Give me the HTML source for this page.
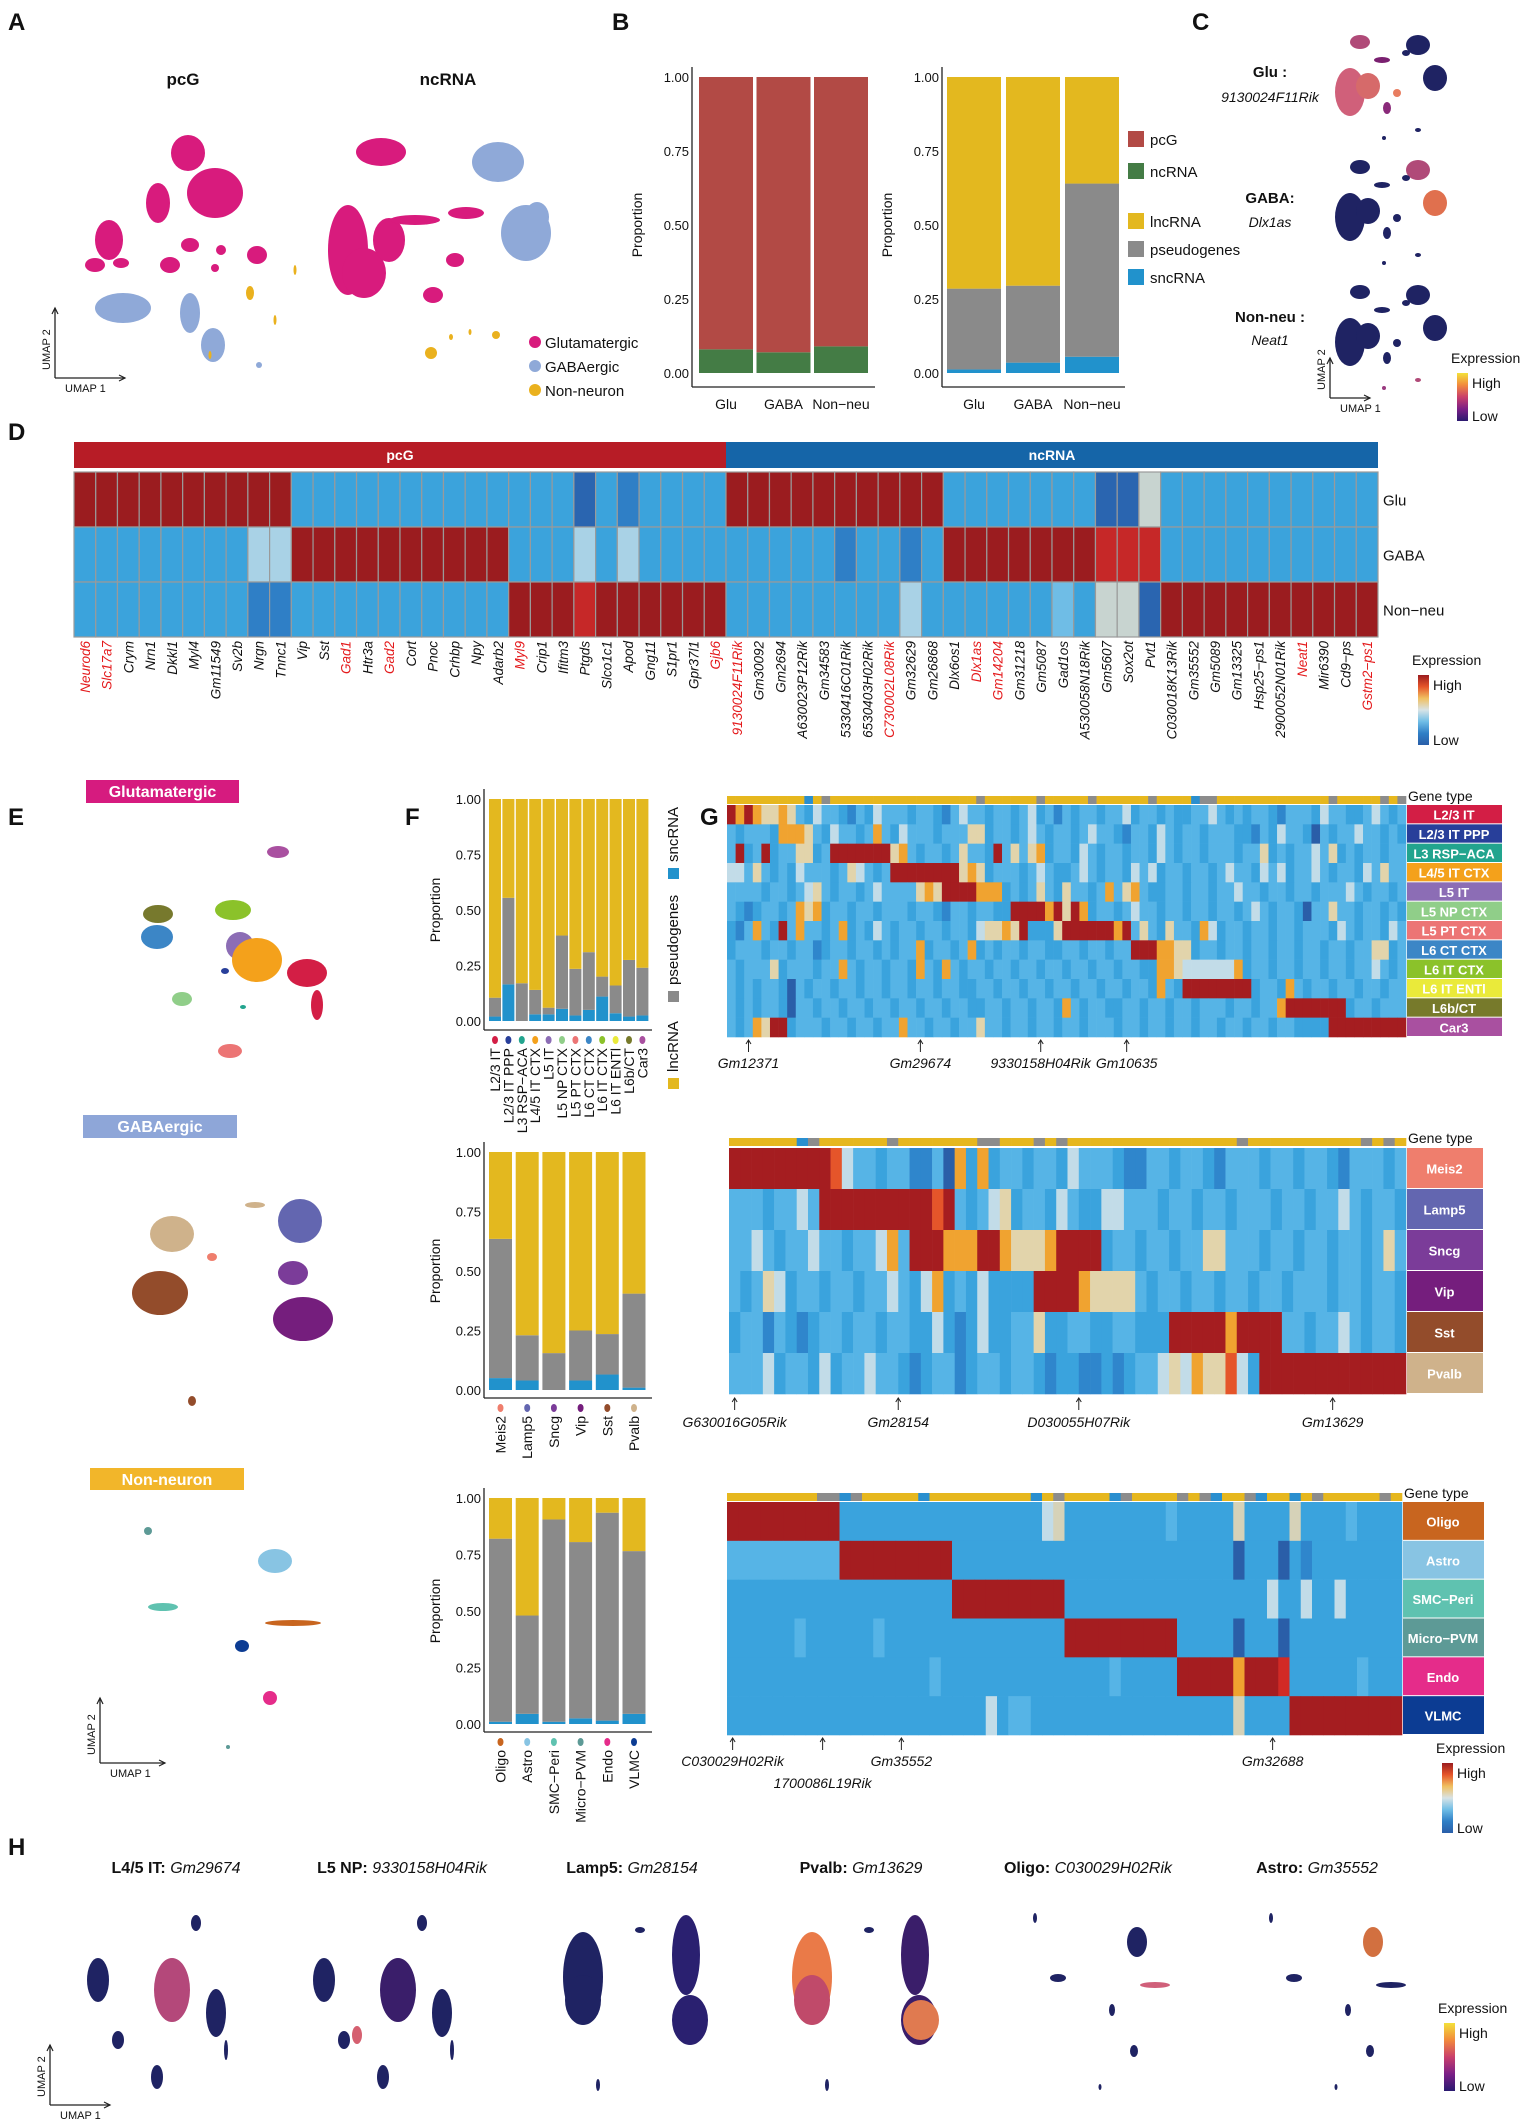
<!DOCTYPE html>
<html><head><meta charset="utf-8"><style>
html,body{margin:0;padding:0;background:#fff;}
svg{display:block;font-family:"Liberation Sans",Arial,sans-serif;}
</style></head><body>
<svg id="fig" width="1535" height="2127" viewBox="0 0 1535 2127" xmlns="http://www.w3.org/2000/svg"></svg>
<script>
// ---------- DATA ----------
const bCategories = ['Glu','GABA','Non\u2212neu'];
const bNcRNA = [0.08, 0.07, 0.09];
const bSncRNA = [0.012, 0.035, 0.055];
const bPseudo = [0.273, 0.26, 0.585];

const fTopCats = ['L2/3 IT','L2/3 IT PPP','L3 RSP\u2212ACA','L4/5 IT CTX','L5 IT','L5 NP CTX','L5 PT CTX','L6 CT CTX','L6 IT CTX','L6 IT ENTl','L6b/CT','Car3'];
const fTopColors = ['#d31e45','#283f9a','#22a48e','#f4a11b','#8c6db5','#90ce89','#ec7575','#3c86c6','#8bc22a','#eaea3a','#777a2b','#a950a0'];
const fTopSnc = [0.02,0.165,0.0,0.03,0.03,0.055,0.025,0.05,0.11,0.035,0.02,0.025];
const fTopPseudo = [0.085,0.39,0.17,0.11,0.03,0.33,0.21,0.26,0.09,0.125,0.255,0.215];

const fMidCats = ['Meis2','Lamp5','Sncg','Vip','Sst','Pvalb'];
const fMidColors = ['#ef7e6d','#6366b0','#7b3c99','#751e7d','#934c2b','#cfb28b'];
const fMidSnc = [0.05,0.04,0.0,0.04,0.065,0.01];
const fMidPseudo = [0.585,0.19,0.155,0.21,0.17,0.395];

const fBotCats = ['Oligo','Astro','SMC\u2212Peri','Micro\u2212PVM','Endo','VLMC'];
const fBotColors = ['#c8651f','#88c4e3','#5fc2b0','#5d9a96','#e52c8a','#0c3c93'];
const fBotSnc = [0.01,0.045,0.01,0.025,0.015,0.045];
const fBotPseudo = [0.81,0.435,0.895,0.78,0.92,0.72];

const dGenes = ['Neurod6','Slc17a7','Crym','Nrn1','Dkkl1','Myl4','Gm11549','Sv2b','Nrgn','Tnnc1','Vip','Sst','Gad1','Htr3a','Gad2','Cort','Pnoc','Crhbp','Npy','Adarb2','Myl9','Crip1','Ifitm3','Ptgds','Slco1c1','Apod','Gng11','S1pr1','Gpr37l1','Gjb6','9130024F11Rik','Gm30092','Gm2694','A630023P12Rik','Gm34583','5330416C01Rik','6530403H02Rik','C730002L08Rik','Gm32629','Gm26868','Dlx6os1','Dlx1as','Gm14204','Gm31218','Gm5087','Gad1os','A530058N18Rik','Gm5607','Sox2ot','Pvt1','C030018K13Rik','Gm35552','Gm5089','Gm13325','Hsp25\u2212ps1','2900052N01Rik','Neat1','Mir6390','Cd9\u2212ps','Gstm2\u2212ps1'];
const dRedGenes = ['Neurod6','Slc17a7','Gad1','Gad2','Myl9','Gjb6','9130024F11Rik','C730002L08Rik','Dlx1as','Gm14204','Neat1','Gstm2\u2212ps1'];
const dRowNames = ['Glu','GABA','Non\u2212neu'];
const dRows = [
 'rrrrrrrrrr'+'bbbbbbbbbbbbbdbmbbbb'+'rrrrrrrrrr'+'bbbbbbbddg'+'bbbbbbbbbb',
 'bbbbbbbbpp'+'rrrrrrrrrr'+'bbbpbpbbbb'+'bbbbbmbbmb'+'rrrrrrrRRR'+'bbbbbbbbbb',
 'bbbbbbbbmm'+'bbbbbbbbbb'+'rrrRrrrrrr'+'bbbbbbbbpb'+'bbbbblbggd'+'rrrrrrrrrr'
];

const gTopLabels = fTopCats;
const gTopType = 'yyyyyyyyybygyyyyyyyyyyyyyyyyygyyyyyygyyyyygyyyyyygyyyybggyyyyyyyyyyyyygyyyyygyg';
const gTopRows = [
 'roroyyoylbpllbmlbplllbllbmlpllbllblpblmlbllbllpbllblbbllplblbllbmlllbpllbblplbl',
 'lblllboooylbpllblolbplllblllyybllblplbllblpllbmllbplbllblllbbmlbpllbdlbllpllblb',
 'lrblrbllyyblrrrrrrryolbllblyllbrlylyobllbplbllbllbplbllblllbllyblbllplyblbllbll',
 'pplylblbplllblyplblrrrrrrrryoyblllblplbblplbllbplpbllbllblpllbplpbllplbllbplyll',
 'llllbllblpylbllblpllllyoyrrrroooblblylbyllblolyolbbllbllbllpllbllbllblllplbllbl',
 'lbmbllbloyobllbllblllbllbmllbllbbrrrroryrobllblpllbllbllbllblplbllbdllyllbllblb',
 'bmlolbrlollbloblbplbllbllbllbpyyoyrbbbyrrrrrrorlylbyllbopbllbllbllblllbplbllbpl',
 'blllbllbllmbllbllblbllobllbloblbllbllbbllbllbllrrrooyybllbllbllbllbllbllbllyybl',
 'lblllyblllbllolbllbllbolbolbllbllbllbllbllbllbllbbooyppppppobllbllbllbllbllplbl',
 'lblbllbdlbllbllbllbllbllbllbbllbllbllbllbllbllbllbolbrrrrrrrrbllbolbllbllbllbll',
 'lblbllbdllbllbllbllbllbllbllbbllbllbllbolbllbbllbllbllblllbllbllorrrrrrrbllblll',
 'lbloyrrblllbllbllbllollbllbllyllbllbllbllblllbllbllbllbllbllbllbllbbbbrrrrrrrrr'
];
const gTopMarks = ['Gm12371','Gm29674','9330158H04Rik','Gm10635'];
const gTopMarkCols = [2.5,22.5,36.5,46.5];

const gMidLabels = fMidCats;
const gMidType = 'yyyyyybgyyyyyygyyyyyyyggyyygygyyyyyyyyyyyyyyygyyyyyyyyyygyg';
const gMidRows = [
 'rrrrrrrrrOpllbllmmldobobllbllbplllbmmllbllbmlllbllbllbmlllbl',
 'lllbllplrrrrrrrrrrOrlblpybllbplbbpplllbllbllblllbllbllplbllb',
 'llplbllpllbllpolrrrooorroyyyorrrrbllbllbllyylllbllbllbllblyl',
 'lblypbllbllbllplbpoblbpbbbbrrrroyyyylbllbllbllbllblllbllbllb',
 'bllmlbmbllbllbllbbpbmbpbbllybbllbbllbbbrrrrrorrrrllbllplbllb',
 'lllpbllbpbllpllbmbllmbllbllbmbbmmbmbllpypoyyOpbrrrrrrrrrrrrr'
];
const gMidMarks = ['G630016G05Rik','Gm28154','D030055H07Rik','Gm13629'];
const gMidMarkCols = [0.5,15,31,53.5];

const gBotLabels = fBotCats;
const gBotType = 'yyyyyyyyggbgyyyyybyyyyyyyyybygyyyybgyyyygygbyygbyybygyyyyygyy';
const gBotRows = [
 'rrrrrrrrrrbbbbbbbbbbbbbbbbbbpgbbbbbbbbblbbbbbgbbbbgbbbblbbbb',
 'llllllllllrrrrrrrrrrbbbbbbbbbbbbbbbbbbbbbbbbbdbbbdbmbbbbbbbb',
 'bbbbbbbbbbbbbbbbbbbbrrrrrrrrrrbbbbbbbbbbbbbbbbbbpbbpbbpbbbbb',
 'bbbbbblbbbbbblbbbbbbbbbbbbbbbbrrrrrrrrrrbbbbbdbbbdbbbbbbbbbb',
 'bbbbbbbbbbbbbbbbbblbbbbbbbbbbbbbbblbbbbbrrrrrorrrRbbbbbblbbb',
 'bbbbbbbbbbbbbbbbbbbbbbbpbllbbbbbbbbbbbbbbbbbbgbbbbrrrrrrrrrr'
];
const gBotMarks = ['C030029H02Rik','1700086L19Rik','Gm35552','Gm32688'];
const gBotMarkCols = [0.5,8.5,15.5,48.5];

// ---------- HELPERS ----------
const NS='http://www.w3.org/2000/svg';
const svg=document.getElementById('fig');
function mk(tag,attrs,parent){const e=document.createElementNS(NS,tag);for(const k in attrs)e.setAttribute(k,attrs[k]);(parent||svg).appendChild(e);return e;}
function T(x,y,s,size,o){o=o||{};const e=mk('text',{x:x,y:y,'font-size':size,'fill':o.fill||'#111','text-anchor':o.anchor||'start','font-weight':o.bold?'bold':'normal','font-style':o.italic?'italic':'normal'},o.parent);if(o.rot!==undefined)e.setAttribute('transform','rotate('+o.rot+' '+x+' '+y+')');e.textContent=s;return e;}
const heatCol={r:'#a51d20',R:'#d22a25',O:'#e5552a',o:'#f0a330',y:'#e2d4ab',p:'#c2dce8',l:'#56b4e6',b:'#3aa3dd',m:'#2f86cc',d:'#2a5ea8',g:'#d6d2b8'};
const dCol={r:'#9b1c1f',R:'#c62828',b:'#3ba3dc',m:'#2f7fc6',d:'#2a65b0',p:'#a9d2e6',l:'#6fbde6',g:'#c8d4d0'};
const typeCol={y:'#e6b71e',g:'#8c8c8c',b:'#2a8fcf'};

// panel letters
[['A',8,30],['B',612,30],['C',1192,30],['D',8,440],['E',8,825],['F',405,825],['G',700,825],['H',8,1855]].forEach(p=>{
 const t=T(p[1],p[2],p[0],24,{bold:true});
 
 
});

function blob(cx,cy,rx,ry,fill,name,parent){
 const e=mk('ellipse',{cx:cx,cy:cy,rx:rx,ry:ry,fill:fill},parent);
 
 
 return e;
}
function umapAxes(x,y,len,label2x,name){
 const g=mk('g',{});
 
 
 mk('line',{x1:x,y1:y,x2:x,y2:y-len,stroke:'#222','stroke-width':1.3},g);
 mk('line',{x1:x,y1:y,x2:x+len,y2:y,stroke:'#222','stroke-width':1.3},g);
 mk('path',{d:`M${x-3},${y-len+6}L${x},${y-len}L${x+3},${y-len+6}M${x+len-6},${y-3}L${x+len},${y}L${x+len-6},${y+3}`,stroke:'#222',fill:'none','stroke-width':1.2},g);
 T(x-5,y-8,'UMAP 2',11,{rot:-90,parent:g});
 T(x+10,y+14,'UMAP 1',11,{parent:g});
}

// ---------- PANEL A ----------
(function(){
 const g=mk('g',{});  
 T(183,85,'pcG',17,{bold:true,anchor:'middle',parent:g});
 T(448,85,'ncRNA',17,{bold:true,anchor:'middle',parent:g});
 const M='#d81b7d',B='#8fa9d8',Y='#eab11e';
 [[188,153,17,18],[215,193,28,25],[158,203,12,20],[109,240,14,20],[95,265,10,7],[121,263,8,5],[190,245,9,7],[170,265,10,8],[221,250,5,5],[215,268,4,4],[257,255,10,9]].forEach(b=>blob(b[0],b[1],b[2],b[3],M,'pcg-glutamatergic-cluster',g));
 [[123,308,28,15],[190,313,10,20],[213,345,12,17],[259,365,3,3]].forEach(b=>blob(b[0],b[1],b[2],b[3],B,'pcg-gabaergic-cluster',g));
 [[250,293,4,7],[275,320,1.5,5],[295,270,1.5,5],[210,355,1.5,4]].forEach(b=>blob(b[0],b[1],b[2],b[3],Y,'pcg-nonneuron-cluster',g));
 [[381,152,25,14],[348,250,20,45],[364,273,22,25],[389,240,16,22],[415,220,25,5],[466,213,18,6],[455,260,9,7],[433,295,10,8]].forEach(b=>blob(b[0],b[1],b[2],b[3],M,'ncrna-glutamatergic-cluster',g));
 [[498,162,26,20],[526,233,25,28],[537,217,12,15]].forEach(b=>blob(b[0],b[1],b[2],b[3],B,'ncrna-gabaergic-cluster',g));
 [[431,353,6,6],[496,335,4,4],[451,337,2,3],[470,332,1.5,3]].forEach(b=>blob(b[0],b[1],b[2],b[3],Y,'ncrna-nonneuron-cluster',g));
 umapAxes(55,378,70,0,'umap-axes-a');
 const leg=[['Glutamatergic',M],['GABAergic',B],['Non-neuron',Y]];
 leg.forEach((l,i)=>{
  const c=mk('circle',{cx:535,cy:342+i*24,r:6,fill:l[1]});
  
  
  const t=T(545,348+i*24,l[0],15);
  
  
 });
})();

// ---------- PANEL B ----------
function stackedAxis(x0,yTop,yBot,axisX,axisBottom,axisRight,name){
 const g=mk('g',{});  
 mk('line',{x1:axisX,y1:yTop-10,x2:axisX,y2:axisBottom,stroke:'#222','stroke-width':1.3},g);
 mk('line',{x1:axisX,y1:axisBottom,x2:axisRight,y2:axisBottom,stroke:'#222','stroke-width':1.3},g);
 return g;
}
const tickVals=[0,0.25,0.5,0.75,1.0];
const tickLabels=['0.00','0.25','0.50','0.75','1.00'];
function drawStack(cfg){
 const y=v=>cfg.y0-v*(cfg.y0-cfg.y1);
 const g=stackedAxis(cfg.x0,cfg.y1,cfg.y0,cfg.axisX,cfg.axisB,cfg.axisR,cfg.name);
 tickVals.forEach((v,i)=>{
  T(cfg.axisX-3,y(v)+5,tickLabels[i],cfg.fs,{anchor:'end',parent:g});
 });
 T(cfg.axisX-cfg.ylabOff,(cfg.y0+cfg.y1)/2,'Proportion',cfg.fs+1,{rot:-90,anchor:'middle',parent:g});
 cfg.cats.forEach((c,i)=>{
  const x=cfg.x0+i*cfg.step;
  let acc=0;
  cfg.layers.forEach(L=>{
   const v=L.vals[i];
   const r=mk('rect',{x:x,y:y(acc+v),width:cfg.w,height:Math.max(0,y(acc)-y(acc+v)),fill:L.color},g);
   
   
   acc+=v;
  });
  if(cfg.catLabels){T(x+cfg.w/2,cfg.axisB+22,c,14,{anchor:'middle',parent:g});}
 });
 return g;
}
const bPcG=bNcRNA.map(v=>1-v);
drawStack({cats:bCategories,x0:699,step:57.5,w:54,y0:373,y1:77,axisX:692,axisB:387,axisR:875,fs:13,ylabOff:50,name:'chart-b-pcg',catLabels:true,
 layers:[{name:'ncrna',vals:bNcRNA,color:'#447c45'},{name:'pcg',vals:bPcG,color:'#b24a45'}]});
const bLnc=bCategories.map((c,i)=>1-bSncRNA[i]-bPseudo[i]);
drawStack({cats:bCategories,x0:947,step:59,w:54,y0:373,y1:77,axisX:942,axisB:387,axisR:1125,fs:13,ylabOff:50,name:'chart-b-ncrna',catLabels:true,
 layers:[{name:'sncrna',vals:bSncRNA,color:'#2192cc'},{name:'pseudogenes',vals:bPseudo,color:'#8a8a8a'},{name:'lncrna',vals:bLnc,color:'#e3b81f'}]});
[['pcG','#b24a45',140],['ncRNA','#447c45',172],['lncRNA','#e3b81f',222],['pseudogenes','#8a8a8a',250],['sncRNA','#2192cc',278]].forEach(l=>{
 const r=mk('rect',{x:1128,y:l[2]-9,width:16,height:16,fill:l[1]});
 
 
 const t=T(1150,l[2]+5,l[0],15);
 
 
});

// ---------- PANEL C ----------
function umapC(ox,oy,cols,name){
 const g=mk('g',{});  
 const sh=[[1360,42,10,7],[1418,45,12,10],[1350,92,15,24],[1368,86,12,13],[1435,78,12,13],[1397,93,4,4],[1387,108,4,6],[1382,60,8,3],[1406,53,4,3],[1384,138,2,2],[1418,130,3,2]];
 sh.forEach((s,i)=>blob(s[0]+ox,s[1]+oy,s[2],s[3],cols[i]||'#1f2363','umap-c-cluster',g));
}
const N='#1f2363';
umapC(0,0,['#b04a78',N,'#d0607a','#d66a6a',N,'#e87d60','#8a2a7a','#7a2070'],'umap-c-glu');
umapC(0,125,[N,'#b04a78',N,N,'#e0704e',N,N,N],'umap-c-gaba');
umapC(0,250,[N,N,N,N,N,N,N,N,N,'#9a3a80','#b04a78'],'umap-c-nonneu');
[['Glu :',77,'9130024F11Rik',102],['GABA:',203,'Dlx1as',227],['Non-neu :',322,'Neat1',345]].forEach(l=>{
 const a=T(1270,l[1],l[0],15,{bold:true,anchor:'middle'});
 
 
 const b=T(1270,l[3],l[2],14,{italic:true,anchor:'middle'});
 
 
});
umapAxes(1330,398,40,0,'umap-axes-c');
function expLegend(x,y,h,stops,name,title){
 const g=mk('g',{});  
 const id='grad'+name;
 const defs=mk('defs',{},g);
 const lg=mk('linearGradient',{id:id,x1:0,y1:0,x2:0,y2:1},defs);
 stops.forEach((c,i)=>mk('stop',{offset:(i/(stops.length-1)),'stop-color':c},lg));
 T(x-6,y-5,title,14,{parent:g});
 mk('rect',{x:x,y:y+5,width:11,height:h,fill:'url(#'+id+')'},g);
 T(x+15,y+20,'High',14,{parent:g});
 T(x+15,y+h+5,'Low',14,{parent:g});
}
const plasma=['#f3e13a','#f28a3c','#c93f6b','#7b1f86','#2a1a70'];
const rdbu=['#9b1c1f','#e5552a','#f0c060','#d8e3e6','#6fbde6','#2f7fc6','#2a5ea8'];
expLegend(1457,368,48,plasma,'legend-expression-c','Expression');

// ---------- PANEL D ----------
(function(){
 const x0=74,x1=1378,cw=(x1-x0)/60,y0=472,rh=55;
 const g=mk('g',{});  
 const hp=mk('rect',{x:x0,y:442,width:cw*30,height:26,fill:'#b71c26'},g);
  
 const hn=mk('rect',{x:x0+cw*30,y:442,width:cw*30,height:26,fill:'#1565a8'},g);
  
 T(x0+cw*15,460,'pcG',14,{bold:true,fill:'#fff',anchor:'middle',parent:g});
 T(x0+cw*45,460,'ncRNA',14,{bold:true,fill:'#fff',anchor:'middle',parent:g});
 dRows.forEach((row,ri)=>{
  for(let c=0;c<60;c++){
   const ch=row[c]||'b';
   const r=mk('rect',{x:x0+c*cw,y:y0+ri*rh,width:cw,height:rh,fill:dCol[ch],stroke:'#9a9a9a','stroke-width':1.2},g);
   
   
  }
  T(1383,y0+ri*rh+rh/2+6,dRowNames[ri],15,{parent:g});
 });
 dGenes.forEach((gn,c)=>{
  const x=x0+c*cw+cw/2+5, y=641;
  const t=T(x,y,gn,13.5,{italic:true,anchor:'end',rot:-90,fill:dRedGenes.includes(gn)?'#e41a1c':'#111',parent:g});
  
  
 });
})();
expLegend(1418,670,70,rdbu,'legend-expression-d','Expression');

// ---------- PANEL E ----------
(function(){
 [['Glutamatergic','#d61b7f',86,780,153,23],['GABAergic','#8ea6d8',83,1115,154,23],['Non-neuron','#f2b62a',90,1468,154,22]].forEach(b=>{
  const r=mk('rect',{x:b[2],y:b[3],width:b[4],height:b[5],fill:b[1]});
  
  
  T(b[2]+b[4]/2,b[3]+17,b[0],16,{bold:true,fill:'#fff',anchor:'middle'});
 });
 const g=mk('g',{});  
 [[158,914,15,9,'#77792d'],[157,937,16,12,'#3c86c6'],[233,910,18,10,'#8bc22a'],[240,946,14,14,'#8c6db5'],[257,960,25,22,'#f4a11b'],[307,973,20,14,'#d31e45'],[317,1005,6,15,'#d31e45'],[182,999,10,7,'#90ce89'],[278,852,11,6,'#a950a0'],[230,1051,12,7,'#ec7575'],[243,1007,3,2,'#22a48e'],[225,971,4,3,'#283f9a']].forEach(b=>blob(b[0],b[1],b[2],b[3],b[4],'e-glu-cluster',g));
 [[172,1234,22,18,'#cfb28b'],[160,1293,28,22,'#934c2b'],[300,1221,22,22,'#6366b0'],[303,1319,30,22,'#751e7d'],[293,1273,15,12,'#7b3c99'],[192,1401,4,5,'#934c2b'],[212,1257,5,4,'#ef7e6d'],[255,1205,10,3,'#cfb28b']].forEach(b=>blob(b[0],b[1],b[2],b[3],b[4],'e-gaba-cluster',g));
 [[148,1531,4,4,'#5d9a96'],[275,1561,17,12,'#88c4e3'],[163,1607,15,4,'#5fc2b0'],[293,1623,28,3,'#c8651f'],[242,1646,7,6,'#0c3c93'],[270,1698,7,7,'#e52c8a'],[228,1747,2,2,'#5d9a96']].forEach(b=>blob(b[0],b[1],b[2],b[3],b[4],'e-nonneu-cluster',g));
 umapAxes(100,1763,65,0,'umap-axes-e');
})();

// ---------- PANEL F ----------
function fChart(cats,colors,snc,pseudo,y0,y1,x0,step,w,axisB,name,labFs){
 const lnc=cats.map((c,i)=>1-snc[i]-pseudo[i]);
 const g=drawStack({cats:cats,x0:x0,step:step,w:w,y0:y0,y1:y1,axisX:484,axisB:axisB,axisR:652,fs:13,ylabOff:44,name:name,catLabels:false,
  layers:[{name:'sncrna',vals:snc,color:'#2192cc'},{name:'pseudogenes',vals:pseudo,color:'#8a8a8a'},{name:'lncrna',vals:lnc,color:'#e3b81f'}]});
 cats.forEach((c,i)=>{
  const cx=x0+i*step+w/2;
  const d=mk('ellipse',{cx:cx,cy:axisB+10,rx:3,ry:4,fill:colors[i]},g);
  
  
  const t=T(cx+5,axisB+18,c,labFs,{anchor:'end',rot:-90,parent:g});
  
  
 });
}
fChart(fTopCats,fTopColors,fTopSnc,fTopPseudo,1021,799,489,13.4,12,1030,'chart-f-glu',14);
fChart(fMidCats,fMidColors,fMidSnc,fMidPseudo,1390,1152,489,26.7,23,1398,'chart-f-gaba',14);
fChart(fBotCats,fBotColors,fBotSnc,fBotPseudo,1724,1498,489,26.7,23,1732,'chart-f-nonneu',14);
[['sncRNA','#2192cc',870],['pseudogenes','#8a8a8a',993],['lncRNA','#e3b81f',1080]].forEach(l=>{
 const r=mk('rect',{x:668,y:l[2]-2,width:11,height:11,fill:l[1]});
 
 
 const t=T(678,l[2]-8,l[0],15,{rot:-90});
 
 
});

// ---------- PANEL G ----------
function gHeat(rows,type,labels,labColors,x0,x1,yType,y0,y1,labX1,marks,markCols,arrowY,labY,name){
 const g=mk('g',{});  
 const n=rows[0].length, cw=(x1-x0)/n, rh=(y1-y0)/rows.length;
 for(let c=0;c<n;c++){
  const t=mk('rect',{x:x0+c*cw,y:yType,width:cw+0.3,height:8,fill:typeCol[type[c]||'y']},g);
  
  
 }
 T(x1+2,yType+5,'Gene type',14,{parent:g});
 rows.forEach((row,ri)=>{
  for(let c=0;c<n;c++){
   const r=mk('rect',{x:x0+c*cw,y:y0+ri*rh,width:cw+0.3,height:rh+0.3,fill:heatCol[row[c]||'b']},g);
   
   
  }
  const lr=mk('rect',{x:x1+1,y:y0+ri*rh,width:labX1-x1-1,height:rh-1,fill:labColors[ri]},g);
  
  
  T((x1+labX1)/2,y0+ri*rh+rh/2+5,labels[ri],Math.min(13,rh*0.7),{bold:true,fill:'#fff',anchor:'middle',parent:g});
 });
 marks.forEach((m,i)=>{
  const x=x0+markCols[i]*cw;
  mk('line',{x1:x,y1:arrowY+12,x2:x,y2:arrowY,stroke:'#222','stroke-width':1},g);
  mk('path',{d:`M${x-2.5},${arrowY+4}L${x},${arrowY}L${x+2.5},${arrowY+4}`,stroke:'#222',fill:'none'},g);
  const t=T(x,labY+(m==='1700086L19Rik'?22:0),m,14,{italic:true,anchor:'middle',parent:g});
  
  
 });
}
gHeat(gTopRows,gTopType,gTopLabels,fTopColors,727,1406,796,805,1037,1502,gTopMarks,gTopMarkCols,1040,1068,'heatmap-g-glu');
gHeat(gMidRows,gMidType,gMidLabels,fMidColors,729,1406,1138,1148,1394,1483,gMidMarks,gMidMarkCols,1398,1427,'heatmap-g-gaba');
gHeat(gBotRows,gBotType,gBotLabels,fBotColors,727,1402,1493,1502,1735,1484,gBotMarks,gBotMarkCols,1738,1766,'heatmap-g-nonneu');
expLegend(1442,1758,70,rdbu,'legend-expression-g','Expression');

// ---------- PANEL H ----------
(function(){
 const titles=[['L4/5 IT: ','Gm29674',176],['L5 NP: ','9330158H04Rik',402],['Lamp5: ','Gm28154',632],['Pvalb: ','Gm13629',861],['Oligo: ','C030029H02Rik',1088],['Astro: ','Gm35552',1317]];
 titles.forEach(t=>{
  const e=mk('text',{x:t[2],y:1873,'font-size':16,'text-anchor':'middle',fill:'#111'});
  
  
  const a=mk('tspan',{'font-weight':'bold'},e); a.textContent=t[0];
  const b=mk('tspan',{'font-style':'italic'},e); b.textContent=t[1];
 });
 const N='#1f2363';
 function glu(ox,hot){
  const g=mk('g',{});  
  [[98,1980,11,22,N],[172,1990,18,32,hot[0]],[216,2013,10,24,N],[196,1923,5,8,N],[118,2040,6,9,N],[157,2077,6,12,hot[1]],[226,2050,2,10,N]].forEach(b=>blob(b[0]+ox,b[1],b[2],b[3],b[4],'h-cluster',g));
 }
 glu(0,['#b4487a',N]); glu(226,['#3a1e6a',N]);
 blob(357,2035,5,9,'#d56070','h-cluster');
 function gaba(ox,l,r,l2){
  const g=mk('g',{});  
  [[583,1977,20,45,l],[583,2000,18,25,l2],[686,1955,14,40,r],[690,2020,18,25,r],[640,1930,5,3,N],[598,2085,2,6,N]].forEach(b=>blob(b[0]+ox,b[1],b[2],b[3],b[4],'h-cluster',g));
 }
 gaba(0,N,'#2a2070',N); gaba(229,'#ea7a48','#3a1e6a','#c04a6a');
 blob(921,2020,18,20,'#e07a50','h-cluster');
 function non(ox,c1,c2){
  const g=mk('g',{});  
  [[1137,1942,10,15,c1],[1035,1918,2,5,N],[1058,1978,8,4,N],[1155,1985,15,3,c2],[1112,2010,3,6,N],[1134,2051,4,6,N],[1100,2087,1.5,3,N]].forEach(b=>blob(b[0]+ox,b[1],b[2],b[3],b[4],'h-cluster',g));
 }
 non(0,N,'#d0607a'); non(236,'#d27040',N);
 umapAxes(50,2105,60,0,'umap-axes-h');
})();
expLegend(1444,2018,68,plasma,'legend-expression-h','Expression');
</script>
</body></html>
